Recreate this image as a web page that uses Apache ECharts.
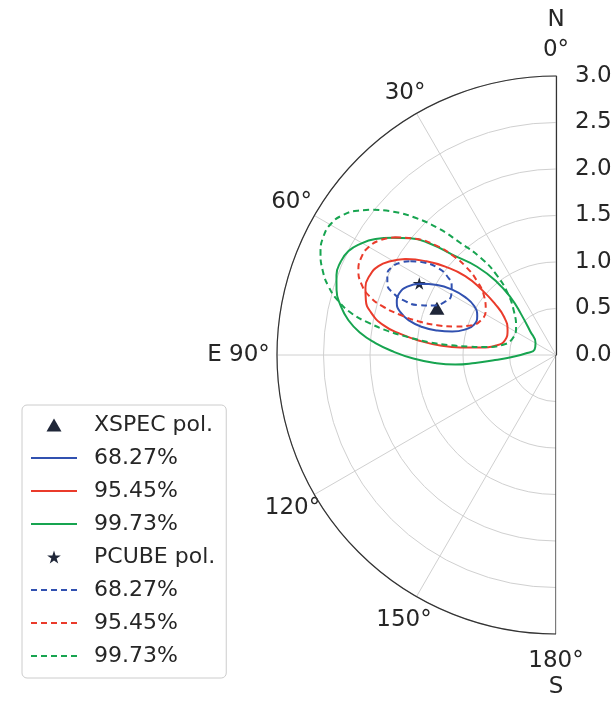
<!DOCTYPE html>
<html>
<head>
<meta charset="utf-8">
<script src="https://cdn.jsdelivr.net/npm/echarts@6/dist/echarts.min.js"></script>
<style>
  html, body { margin: 0; padding: 0; background: #ffffff; }
  #chart { width: 616px; height: 703px; }
</style>
</head>
<body>
<div id="chart"></div>
<script>
// Polarization confidence contours: [position angle (deg, east of north), polarization degree]
const angleTicks = [0, 30, 60, 90, 120, 150, 180];
const radiusTicks = [0.0, 0.5, 1.0, 1.5, 2.0, 2.5, 3.0];

const xspecBest = [[68.6, 1.375]];
const pcubeBest = [[62.4, 1.659]];

const xspec68 = [
  [62.3, 1.648], [59.5, 1.482], [57.8, 1.319], [57.5, 1.158], [59.1, 1.025], [63.7, 0.945],
  [69.6, 0.939], [74.3, 1.014], [77.3, 1.144], [78.4, 1.304], [78.2, 1.469], [76.8, 1.620],
  [74.6, 1.736], [71.8, 1.802], [68.5, 1.811], [65.3, 1.760], [62.3, 1.648]
];
const xspec95 = [
  [57.5, 1.920], [54.3, 1.730], [51.4, 1.523], [49.0, 1.293], [48.7, 1.057], [50.1, 0.853],
  [53.8, 0.691], [62.7, 0.586], [73.6, 0.570], [81.0, 0.652], [84.4, 0.819], [85.5, 1.033],
  [85.3, 1.249], [84.1, 1.467], [82.3, 1.689], [80.2, 1.884], [77.2, 2.035], [73.9, 2.128],
  [70.4, 2.175], [66.8, 2.177], [63.4, 2.135], [60.5, 2.047], [57.5, 1.920]
];
const xspec99 = [
  [54.4, 2.165], [51.3, 2.007], [48.5, 1.805], [45.8, 1.541], [41.8, 1.273], [39.0, 1.007],
  [38.3, 0.779], [40.5, 0.578], [47.3, 0.380], [59.7, 0.255], [75.7, 0.238], [86.0, 0.312],
  [92.6, 0.473], [94.7, 0.657], [95.6, 0.873], [95.4, 1.088], [93.8, 1.301], [91.4, 1.535],
  [88.8, 1.749], [86.2, 1.946], [83.6, 2.116], [80.5, 2.263], [77.0, 2.379], [73.5, 2.461],
  [70.0, 2.512], [66.7, 2.523], [63.4, 2.495], [60.4, 2.420], [57.3, 2.307], [54.4, 2.165]
];
const pcube68 = [
  [57.2, 1.863], [54.8, 1.721], [53.6, 1.573], [54.1, 1.444], [56.4, 1.347], [60.3, 1.297],
  [64.7, 1.329], [68.2, 1.432], [70.1, 1.575], [70.3, 1.733], [69.2, 1.871], [67.2, 1.967],
  [64.4, 2.011], [61.7, 2.000], [59.3, 1.946], [57.2, 1.863]
];
const pcube95 = [
  [53.8, 2.142], [50.4, 1.962], [47.7, 1.755], [46.1, 1.548], [45.6, 1.351], [46.9, 1.161],
  [50.7, 0.999], [57.4, 0.897], [65.0, 0.888], [71.1, 0.976], [74.2, 1.126], [75.9, 1.317],
  [76.2, 1.525], [75.5, 1.740], [74.3, 1.940], [72.5, 2.104], [70.0, 2.226], [66.8, 2.312],
  [63.3, 2.342], [60.1, 2.326], [56.8, 2.256], [53.8, 2.142]
];
const pcube99 = [
  [51.5, 2.509], [48.6, 2.330], [45.7, 2.113], [42.9, 1.860], [40.5, 1.587], [37.7, 1.316],
  [36.6, 1.062], [38.2, 0.833], [44.3, 0.645], [55.0, 0.524], [70.0, 0.502], [79.5, 0.589],
  [83.4, 0.745], [84.5, 0.949], [84.7, 1.164], [84.2, 1.381], [83.1, 1.600], [81.9, 1.821],
  [80.3, 2.036], [78.6, 2.233], [76.1, 2.410], [73.2, 2.556], [70.0, 2.671], [66.6, 2.759],
  [62.9, 2.807], [59.6, 2.799], [56.6, 2.738], [54.0, 2.639], [51.5, 2.509]
];

const FONT = 'DejaVu Sans';
const TEXT = '#262626';
const BLUE = '#3151b0';
const RED = '#ea3b2b';
const GREEN = '#17a450';
const MARK = '#1f2638';
const TRIANGLE = 'path://M0,13L7.5,0L15,13Z';
const STAR = 'path://M50,0L61.2,34.5L97.6,34.5L68.2,55.9L79.4,90.5L50,69.1L20.6,90.5L31.8,55.9L2.4,34.5L38.8,34.5Z';
const DASH = [6, 4];

// polar series expect [radius, angle]
const toPolar = pts => pts.map(p => [p[1], p[0]]);

// angle tick label text; rich padding nudges each label into place
const angleLabelText = {
  0: '{n|N}\n{z|0°}',
  30: '{a30|30°}',
  60: '{a60|60°}',
  90: '{a90|E 90°}',
  120: '{a120|120°}',
  150: '{a150|150°}',
  180: '{h|180°}\n{s|S}'
};
const tok = pad => ({ padding: pad, fontSize: 23, fontFamily: FONT, color: TEXT });

function contour(name, pts, color, dashed) {
  return {
    name: name,
    type: 'line',
    coordinateSystem: 'polar',
    data: toPolar(pts),
    symbol: 'none',
    smooth: 0.5,
    z: 3,
    lineStyle: { color: color, width: 2, type: dashed ? DASH : 'solid' },
    itemStyle: { color: color }
  };
}

const legendNames = [
  'XSPEC pol.', 'XSPEC 68.27%', 'XSPEC 95.45%', 'XSPEC 99.73%',
  'PCUBE pol.', 'PCUBE 68.27%', 'PCUBE 95.45%', 'PCUBE 99.73%'
];

const option = {
  animation: false,
  backgroundColor: '#ffffff',
  textStyle: { fontFamily: FONT },
  polar: { center: [556, 355], radius: 279 },
  angleAxis: {
    type: 'value',
    min: 0,
    max: 180,
    interval: 30,
    startAngle: 90,
    endAngle: 270,
    clockwise: false,
    axisLine: { show: true, lineStyle: { color: '#333333', width: 1.2 } },
    axisTick: { show: false },
    splitLine: { show: true, lineStyle: { color: '#d0d0d0', width: 1 } },
    axisLabel: {
      margin: -31,
      fontSize: 23,
      fontFamily: FONT,
      color: TEXT,
      formatter: v => angleLabelText[v] || (v + '°'),
      rich: {
        n: tok([0, 0, 6.5, 0]),
        z: tok([0, 0, 45.5, 0]),
        a30: tok([0, 6.6, 35.7, 0]),
        a60: tok([0, 29.3, 17, 0]),
        a90: tok([0, 38.2, 0, 0]),
        a120: tok([18, 21, 0, 0]),
        a150: tok([38.7, 0.3, 0, 0]),
        h: tok([47, 0, 0, 0]),
        s: tok([3, 0, 0, 0])
      }
    }
  },
  radiusAxis: {
    type: 'value',
    min: radiusTicks[0],
    max: radiusTicks[radiusTicks.length - 1],
    interval: 0.5,
    axisLine: { show: true, lineStyle: { color: '#333333', width: 1.2 } },
    axisTick: { show: false },
    splitLine: { show: true, lineStyle: { color: '#d0d0d0', width: 1 } },
    axisLabel: {
      margin: -19,
      align: 'left',
      fontSize: 23,
      fontFamily: FONT,
      color: TEXT,
      formatter: v => v.toFixed(1)
    }
  },
  legend: {
    orient: 'vertical',
    left: 22,
    top: 405,
    padding: [9, 11, 11, 8],
    itemGap: 11,
    itemWidth: 46,
    itemHeight: 13,
    symbolKeepAspect: true,
    backgroundColor: '#ffffff',
    borderColor: '#cccccc',
    borderWidth: 1,
    borderRadius: 5,
    selectedMode: false,
    textStyle: { fontSize: 22, fontFamily: FONT, color: TEXT, lineHeight: 22, padding: [0, 0, 0, 12] },
    formatter: name => name.replace(/^(XSPEC|PCUBE) (?=\d)/, ''),
    data: legendNames.map(n => {
      if (n === 'XSPEC pol.') return { name: n, icon: TRIANGLE };
      if (n === 'PCUBE pol.') return { name: n, icon: STAR };
      return { name: n, itemStyle: { opacity: 0 } };
    })
  },
  series: [
    {
      name: 'sector edge',
      type: 'line',
      coordinateSystem: 'polar',
      data: [[radiusTicks[0], angleTicks[angleTicks.length - 1]], [radiusTicks[radiusTicks.length - 1], angleTicks[angleTicks.length - 1]]],
      symbol: 'none',
      silent: true,
      z: 1,
      lineStyle: { color: '#333333', width: 1.2 }
    },
    {
      name: 'XSPEC pol.',
      type: 'scatter',
      coordinateSystem: 'polar',
      data: toPolar(xspecBest),
      symbol: TRIANGLE,
      symbolSize: [15, 13],
      symbolKeepAspect: false,
      z: 2,
      itemStyle: { color: MARK, opacity: 1 }
    },
    contour('XSPEC 68.27%', xspec68, BLUE, false),
    contour('XSPEC 95.45%', xspec95, RED, false),
    contour('XSPEC 99.73%', xspec99, GREEN, false),
    {
      name: 'PCUBE pol.',
      type: 'scatter',
      coordinateSystem: 'polar',
      data: toPolar(pcubeBest),
      symbol: STAR,
      symbolSize: [13, 12.4],
      symbolKeepAspect: false,
      z: 2,
      itemStyle: { color: MARK, opacity: 1 }
    },
    contour('PCUBE 68.27%', pcube68, BLUE, true),
    contour('PCUBE 95.45%', pcube95, RED, true),
    contour('PCUBE 99.73%', pcube99, GREEN, true)
  ]
};

const chart = echarts.init(document.getElementById('chart'));
chart.setOption(option);
</script>
</body>
</html>
